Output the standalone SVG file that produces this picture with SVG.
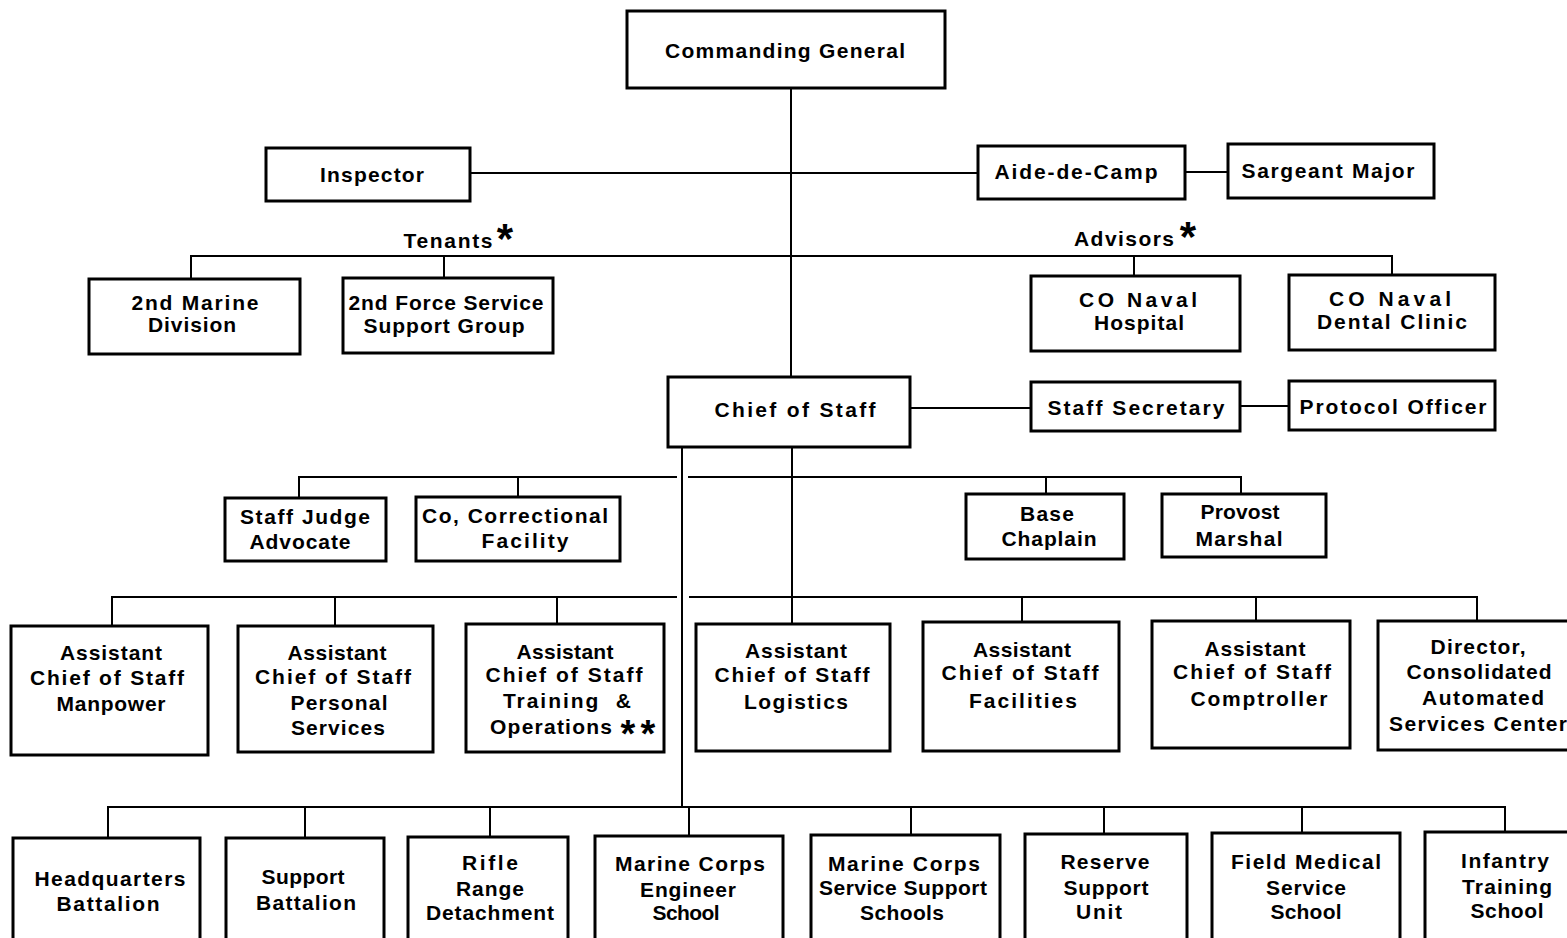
<svg xmlns="http://www.w3.org/2000/svg" width="1567" height="938" viewBox="0 0 1567 938">
<style>
.b{fill:#fff;stroke:#000;stroke-width:3}
.c{fill:none;stroke:#000;stroke-width:2}
text{font-family:"Liberation Sans",Arial,sans-serif;font-size:21px;font-weight:bold;fill:#000;text-anchor:middle}
.s{font-size:42px}
.s2{font-size:38px}
</style>
<rect width="1567" height="938" fill="#fff"/>
<g id="connectors">
<path class="c" d="M791 88V377M792 447V624M470 173H978M1185 172H1228M191 280V256H1392V275M444 256V279M1134 256V276M910 408H1031M1240 406H1289M682 447V808M299 498V477H677M688 477H1241V494M518 477V497M1046 477V494M112 626V597H677M689 597H1477V621M335 597V626M557 597V624M1022 597V622M1256 597V621M108 838V807H1505V832M305 807V838M490 807V836M689 807V836M911 807V835M1104 807V834M1302 807V833"/>
</g>
<g id="cg"><rect class="b" x="627" y="11" width="318" height="77"/><text x="785" y="58" textLength="240">Commanding General</text></g>
<g id="inspector"><rect class="b" x="266" y="148" width="204" height="53"/><text x="372" y="182" textLength="104">Inspector</text></g>
<g id="aide"><rect class="b" x="978" y="146" width="207" height="53"/><text x="1076" y="179" textLength="163">Aide-de-Camp</text></g>
<g id="sgtmajor"><rect class="b" x="1228" y="144" width="206" height="54"/><text x="1328" y="178" textLength="173">Sargeant Major</text></g>
<g id="tenants"><text x="448" y="248" textLength="89">Tenants</text><text class="s" x="505" y="253">*</text></g>
<g id="advisors"><text x="1124" y="246" textLength="100">Advisors</text><text class="s" x="1188" y="251">*</text></g>
<g id="marinediv"><rect class="b" x="89" y="279" width="211" height="75"/><text x="195" y="310" textLength="127">2nd Marine</text><text x="192" y="332" textLength="88">Division</text></g>
<g id="fssg"><rect class="b" x="343" y="278" width="210" height="75"/><text x="446" y="310" textLength="195">2nd Force Service</text><text x="444" y="333" textLength="161">Support Group</text></g>
<g id="hospital"><rect class="b" x="1031" y="276" width="209" height="75"/><text x="1138" y="307" textLength="118">CO  Naval</text><text x="1139" y="330" textLength="90">Hospital</text></g>
<g id="dental"><rect class="b" x="1289" y="275" width="206" height="75"/><text x="1390" y="306" textLength="122">CO  Naval</text><text x="1392" y="329" textLength="150">Dental Clinic</text></g>
<g id="cos"><rect class="b" x="668" y="377" width="242" height="70"/><text x="795" y="417" textLength="161">Chief of Staff</text></g>
<g id="staffsec"><rect class="b" x="1031" y="382" width="209" height="49"/><text x="1136" y="415" textLength="177">Staff Secretary</text></g>
<g id="protocol"><rect class="b" x="1289" y="381" width="206" height="49"/><text x="1393" y="414" textLength="187">Protocol Officer</text></g>
<g id="sja"><rect class="b" x="225" y="498" width="161" height="63"/><text x="305" y="524" textLength="130">Staff Judge</text><text x="300" y="549" textLength="101">Advocate</text></g>
<g id="correctional"><rect class="b" x="416" y="497" width="204" height="64"/><text x="515" y="523" textLength="186">Co, Correctional</text><text x="525" y="548" textLength="87">Facility</text></g>
<g id="chaplain"><rect class="b" x="966" y="494" width="158" height="65"/><text x="1047" y="521" textLength="54">Base</text><text x="1049" y="546" textLength="95">Chaplain</text></g>
<g id="provost"><rect class="b" x="1162" y="494" width="164" height="63"/><text x="1240" y="519" textLength="79">Provost</text><text x="1239" y="546" textLength="87">Marshal</text></g>
<g id="manpower"><rect class="b" x="11" y="626" width="197" height="129"/><text x="111" y="660" textLength="102">Assistant</text><text x="107" y="685" textLength="154">Chief of Staff</text><text x="111" y="711" textLength="109">Manpower</text></g>
<g id="personal"><rect class="b" x="238" y="626" width="195" height="126"/><text x="337" y="660" textLength="99">Assistant</text><text x="333" y="684" textLength="156">Chief of Staff</text><text x="339" y="710" textLength="97">Personal</text><text x="338" y="735" textLength="94">Services</text></g>
<g id="training"><rect class="b" x="466" y="624" width="198" height="128"/><text x="565" y="659" textLength="97">Assistant</text><text x="564" y="682" textLength="157">Chief of Staff</text><text x="567" y="708" textLength="128" xml:space="preserve">Training  &amp;</text><text x="551" y="734" textLength="122">Operations</text><text class="s2" x="628 648" y="747">**</text></g>
<g id="logistics"><rect class="b" x="696" y="624" width="194" height="127"/><text x="796" y="658" textLength="102">Assistant</text><text x="792" y="682" textLength="155">Chief of Staff</text><text x="796" y="709" textLength="104">Logistics</text></g>
<g id="facilities"><rect class="b" x="923" y="622" width="196" height="129"/><text x="1022" y="657" textLength="98">Assistant</text><text x="1020" y="680" textLength="157">Chief of Staff</text><text x="1023" y="708" textLength="108">Facilities</text></g>
<g id="comptroller"><rect class="b" x="1152" y="621" width="198" height="127"/><text x="1255" y="656" textLength="101">Assistant</text><text x="1252" y="679" textLength="158">Chief of Staff</text><text x="1259" y="706" textLength="137">Comptroller</text></g>
<g id="director"><rect class="b" x="1378" y="621" width="200" height="129"/><text x="1478" y="654" textLength="95">Director,</text><text x="1479" y="679" textLength="145">Consolidated</text><text x="1483" y="705" textLength="122">Automated</text><text x="1478" y="731" textLength="178">Services Center</text></g>
<g id="hqbn"><rect class="b" x="13" y="838" width="187" height="110"/><text x="110" y="886" textLength="151">Headquarters</text><text x="108" y="911" textLength="103">Battalion</text></g>
<g id="supbn"><rect class="b" x="226" y="838" width="158" height="110"/><text x="303" y="884" textLength="83">Support</text><text x="306" y="910" textLength="100">Battalion</text></g>
<g id="rifle"><rect class="b" x="408" y="837" width="160" height="110"/><text x="490" y="870" textLength="56">Rifle</text><text x="490" y="896" textLength="68">Range</text><text x="490" y="920" textLength="128">Detachment</text></g>
<g id="engineer"><rect class="b" x="595" y="836" width="188" height="110"/><text x="690" y="871" textLength="150">Marine Corps</text><text x="688" y="897" textLength="96">Engineer</text><text x="686" y="920" textLength="67">School</text></g>
<g id="mcsss"><rect class="b" x="811" y="835" width="189" height="110"/><text x="904" y="871" textLength="152">Marine Corps</text><text x="903" y="895" textLength="168">Service Support</text><text x="902" y="920" textLength="84">Schools</text></g>
<g id="reserve"><rect class="b" x="1025" y="834" width="162" height="110"/><text x="1105" y="869" textLength="89">Reserve</text><text x="1106" y="895" textLength="85">Support</text><text x="1099" y="919" textLength="46">Unit</text></g>
<g id="fieldmed"><rect class="b" x="1212" y="833" width="188" height="110"/><text x="1306" y="869" textLength="150">Field Medical</text><text x="1306" y="895" textLength="80">Service</text><text x="1306" y="919" textLength="71">School</text></g>
<g id="infantry"><rect class="b" x="1425" y="832" width="160" height="110"/><text x="1505" y="868" textLength="88">Infantry</text><text x="1507" y="894" textLength="90">Training</text><text x="1507" y="918" textLength="73">School</text></g>
</svg>
